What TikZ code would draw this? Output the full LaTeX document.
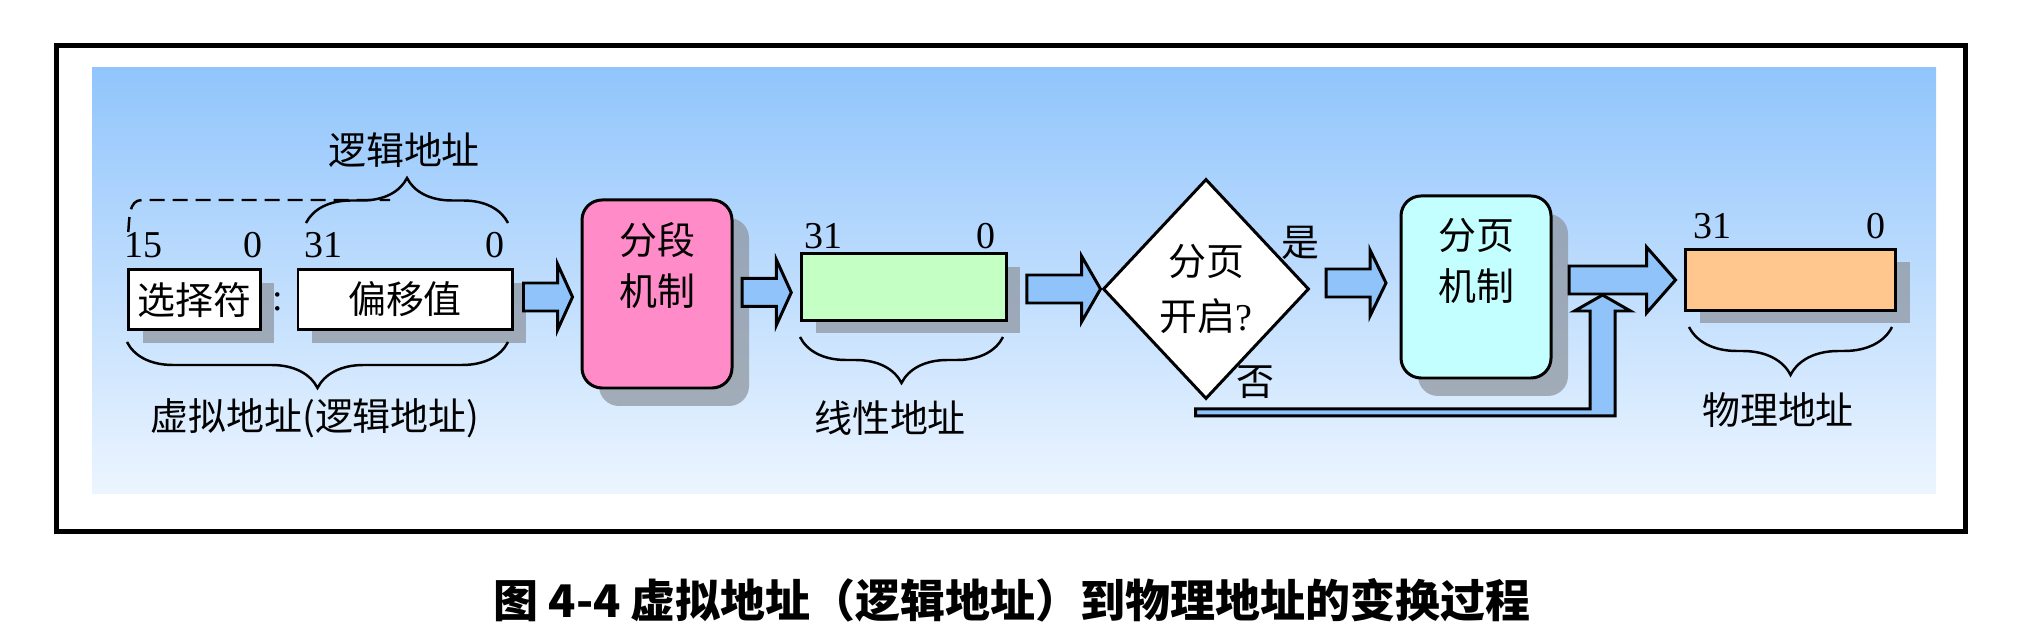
\documentclass[tikz,border=0pt]{standalone}
\usepackage{fontspec}
\usepackage{tikz}
\usetikzlibrary{calc,shapes.geometric,decorations.pathreplacing,shadows,positioning}
\setmainfont{Liberation Serif}
\newfontfamily\cjk{Noto Sans CJK SC}
\definecolor{panelblue}{HTML}{91C5FC}
\definecolor{panellight}{HTML}{ECF5FF}
\definecolor{arrowblue}{HTML}{8FC3F9}
\definecolor{segpink}{HTML}{FF8CC8}
\definecolor{lingreen}{HTML}{C4FFC4}
\definecolor{pagecyan}{HTML}{C4FFFF}
\definecolor{physorange}{HTML}{FFC68E}
\definecolor{shadowgrey}{RGB}{140,146,155}
\tikzset{
  addrbox/.style={draw, line width=0.85pt, inner sep=0pt, drop shadow={shadow xshift=0.14cm, shadow yshift=-0.13cm, fill=shadowgrey, opacity=0.7}},
  mechbox/.style={draw, line width=0.85pt, rounded corners=0.2cm, minimum width=1.50cm, minimum height=1.84cm, drop shadow={shadow xshift=0.17cm, shadow yshift=-0.18cm, fill=shadowgrey, opacity=0.7}},
  cjktext/.style={font=\cjk\fontsize{10.8}{14.5}\selectfont, inner sep=0pt, align=center},
  bitnum/.style={font=\fontsize{10.8}{13}\selectfont, inner sep=0pt},
  fatarrow/.style={draw, fill=arrowblue, line width=0.85pt, line join=miter},
  addrbrace/.style={decorate, line width=0.7pt},
}
\newcommand{\fatarrow}[3][0.16]{\path[fatarrow] let \p1=#2, \p2=#3 in
  (\x1,{\y2+0.14cm}) -- ({\x2-#1cm},{\y2+0.14cm}) -- ({\x2-#1cm},{\y2+0.33cm}) -- (\x2,\y2)
  -- ({\x2-#1cm},{\y2-0.33cm}) -- ({\x2-#1cm},{\y2-0.14cm}) -- (\x1,{\y2-0.14cm}) -- cycle;}

\begin{document}
\begin{tikzpicture}
\useasboundingbox (0,0) rectangle (20.30,-6.36);
\draw[line width=1.42pt] (0.565,-0.455) rectangle (19.65,-5.315);
\shade[top color=panelblue, bottom color=panellight] (0.92,-0.68) rectangle (19.36,-4.94);

\node[addrbox, fill=white, minimum width=1.315cm, minimum height=0.60cm, cjktext] (sel) at (1.943,-2.996) {选择符};
\node[addrbox, fill=white, minimum width=2.14cm, minimum height=0.60cm, cjktext] (offset) at (4.05,-2.996) {偏移值};
\node[bitnum] (colon) at (2.78,-3.02) {:};
\node[bitnum] (selhi) at (1.435,-2.455) {15};
\node[bitnum] (sello) at (2.525,-2.455) {0};
\node[bitnum] (offhi) at (3.235,-2.455) {31};
\node[bitnum] (offlo) at (4.95,-2.455) {0};
\draw[line width=0.7pt, dash pattern=on 0.15cm off 0.08cm] (1.283,-2.32) to[out=85,in=180] (1.42,-2.0) -- (3.9,-2.0);
\draw[addrbrace, decoration={brace, amplitude=0.45cm}] (3.06,-2.23) -- (5.08,-2.23);
\draw[addrbrace, decoration={brace, mirror, amplitude=0.46cm}] (1.27,-3.42) -- (5.08,-3.42);
\node[cjktext] (logical) at (4.04,-1.50) {逻辑地址};
\node[cjktext] (virtual) at (3.15,-4.18) {虚拟地址(逻辑地址)};

\node[mechbox, fill=segpink, minimum height=1.88cm] (seg) at (6.57,-2.94) {};
\node[cjktext] (segtext) at (6.57,-2.65) {分段\\机制};

\node[addrbox, fill=lingreen, minimum width=2.045cm, minimum height=0.665cm] (linear) at (9.04,-2.87) {};
\node[bitnum] (linhi) at (8.235,-2.365) {31};
\node[bitnum] (linlo) at (9.855,-2.365) {0};
\draw[addrbrace, decoration={brace, mirror, amplitude=0.46cm}] (8.00,-3.37) -- (10.03,-3.37);
\node[cjktext] (lintext) at (8.90,-4.18) {线性地址};

\node[diamond, draw, fill=white, line width=0.85pt, minimum width=2.06cm, minimum height=2.20cm, cjktext, font=\cjk\fontsize{10.8}{15.4}\selectfont] (dec) at (12.06,-2.89) {分页\\开启{\rmfamily ?}};
\node[cjktext] (yes) at (13.00,-2.43) {是};
\node[cjktext] (no) at (12.55,-3.82) {否};

\node[mechbox, fill=pagecyan, minimum height=1.82cm] (paging) at (14.76,-2.87) {};
\node[cjktext] (pagetext) at (14.76,-2.61) {分页\\机制};

\node[addrbox, fill=physorange, minimum width=2.10cm, minimum height=0.61cm] (phys) at (17.905,-2.80) {};
\node[bitnum] (physhi) at (17.125,-2.265) {31};
\node[bitnum] (physlo) at (18.755,-2.265) {0};
\draw[addrbrace, decoration={brace, mirror, amplitude=0.48cm}] (16.89,-3.27) -- (18.92,-3.27);
\node[cjktext] (phystext) at (17.78,-4.10) {物理地址};

\fatarrow[0.15]{($(offset.east)+(0.10,0)$)}{($(seg.west)+(-0.08,-0.03)$)}
\fatarrow[0.15]{($(seg.east)+(0.085,0)$)}{($(linear.west)+(-0.09,-0.055)$)}
\fatarrow[0.19]{($(linear.east)+(0.19,0)$)}{($(dec.west)+(-0.01,0)$)}
\fatarrow{($(dec.east)+(0.155,0)$)}{($(paging.west)+(-0.135,0.04)$)}
\coordinate (join) at ($(phys.west)+(-0.815,-0.15)$);
\path[fatarrow] let \p1=(dec.south), \p2=(join) in
  ({\x1-0.105cm},{\y1-0.085cm}) -- ({\x2-0.125cm},{\y1-0.085cm}) -- ({\x2-0.125cm},{\y2-0.16cm})
  -- ({\x2-0.28cm},{\y2-0.16cm}) -- (\x2,\y2) -- ({\x2+0.28cm},{\y2-0.16cm}) -- ({\x2+0.125cm},{\y2-0.16cm})
  -- ({\x2+0.125cm},{\y1-0.155cm}) -- ({\x1-0.105cm},{\y1-0.155cm}) -- cycle;
\fatarrow[0.29]{($(paging.east)+(0.165,0)$)}{($(phys.west)+(-0.085,0)$)}

\node[font=\cjk\bfseries\fontsize{12.8}{15}\selectfont] (caption) at (10.12,-6.00) {图 4-4 虚拟地址（逻辑地址）到物理地址的变换过程};
\end{tikzpicture}
\end{document}
